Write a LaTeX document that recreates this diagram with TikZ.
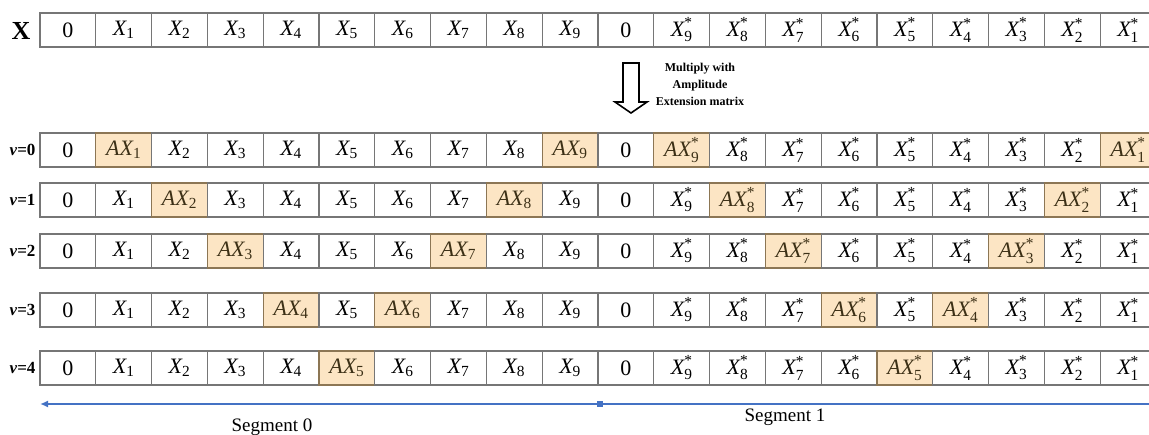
\documentclass[tikz,border=0pt]{standalone}
\usepackage{fontspec}
\setmainfont{Liberation Serif}
\usepackage{amsmath}
\usepackage{tikz}
\usetikzlibrary{arrows.meta, positioning}
\definecolor{cellgray}{RGB}{118,118,118}
\definecolor{hlfill}{RGB}{252,229,196}
\definecolor{hldraw}{RGB}{140,118,84}
\definecolor{hltext}{RGB}{60,48,22}
\definecolor{segblue}{RGB}{68,114,196}

\newcommand{\xval}[2]{$\textit{#1X}_{\text{#2}}$}
\newcommand{\xconj}[2]{$\textit{#1X}^{\text{*}}_{\text{#2}}$}

\begin{document}
\begin{tikzpicture}[
    x=1pt, y=-1pt,
    cell/.style={rectangle, line width=1.3pt, minimum width=55.8pt, minimum height=34pt, inner sep=0pt, font=\fontsize{22}{24}\selectfont},
    rowlabel/.style={anchor=east, font=\fontsize{17}{18}\selectfont\bfseries},
    segline/.style={{Latex[length=8pt,width=7pt]}-, draw=segblue, line width=2.4pt},
    seglabel/.style={font=\fontsize{19}{20}\selectfont}
]
    \clip (0,0) rectangle (1149,435);

    % Input row
    \node[font=\fontsize{26}{28}\selectfont\bfseries] (xlab) at (21,31) {X};
    \foreach \c in {0,...,19} {
        \pgfmathtruncatemacro{\k}{\c<10 ? \c : 20-\c}
        \node[cell, draw=cellgray] (x\c) at ({40+55.8*(\c+0.5)},30)
            {\ifnum\k=0 0\else\ifnum\k=10 0\else\ifnum\c<10 \xval{}{\k}\else\xconj{}{\k}\fi\fi\fi};
    }

    % Multiplication step
    \draw[line width=1.6pt, fill=white] (623,63) -- (639,63) -- (639,102) -- (647,102)
        -- (631,113) -- (615,102) -- (623,102) -- cycle;
    \node[font=\fontsize{12}{17}\selectfont\bfseries, align=center] (mult) at (700,84)
        {Multiply with\\Amplitude\\Extension matrix};

    % Extended rows
    \foreach \r/\y in {0/150,1/200,2/251,3/310,4/368} {
        \node[rowlabel] (v\r) at (39,\y) {\textit{v}=\r};
        \foreach \c in {0,...,19} {
            \pgfmathtruncatemacro{\k}{\c<10 ? \c : 20-\c}
            \pgfmathtruncatemacro{\hl}{(\k==\r+1 || \k==9-\r) ? 1 : 0}
            \ifnum\hl=1
                \def\cfill{hlfill}\def\cdraw{hldraw}\def\ctext{hltext}\def\pre{A}
            \else
                \def\cfill{none}\def\cdraw{cellgray}\def\ctext{black}\def\pre{}
            \fi
            \node[cell, fill=\cfill, draw=\cdraw, text=\ctext] (r\r c\c) at ({40+55.8*(\c+0.5)},\y)
                {\ifnum\k=0 0\else\ifnum\k=10 0\else\ifnum\c<10 \xval{\pre}{\k}\else\xconj{\pre}{\k}\fi\fi\fi};
        }
    }

    % Segments
    \coordinate (segL) at (40,404);
    \coordinate (segR) at (1160,404);
    \draw[segline] (segL) -- (segR);
    \node[fill=segblue, minimum size=6pt, inner sep=0pt] (segM) at (600,404) {};
    \node[seglabel] (seg0) at (272,427) {Segment 0};
    \node[seglabel] (seg1) at (785,417) {Segment 1};
\end{tikzpicture}
\end{document}
